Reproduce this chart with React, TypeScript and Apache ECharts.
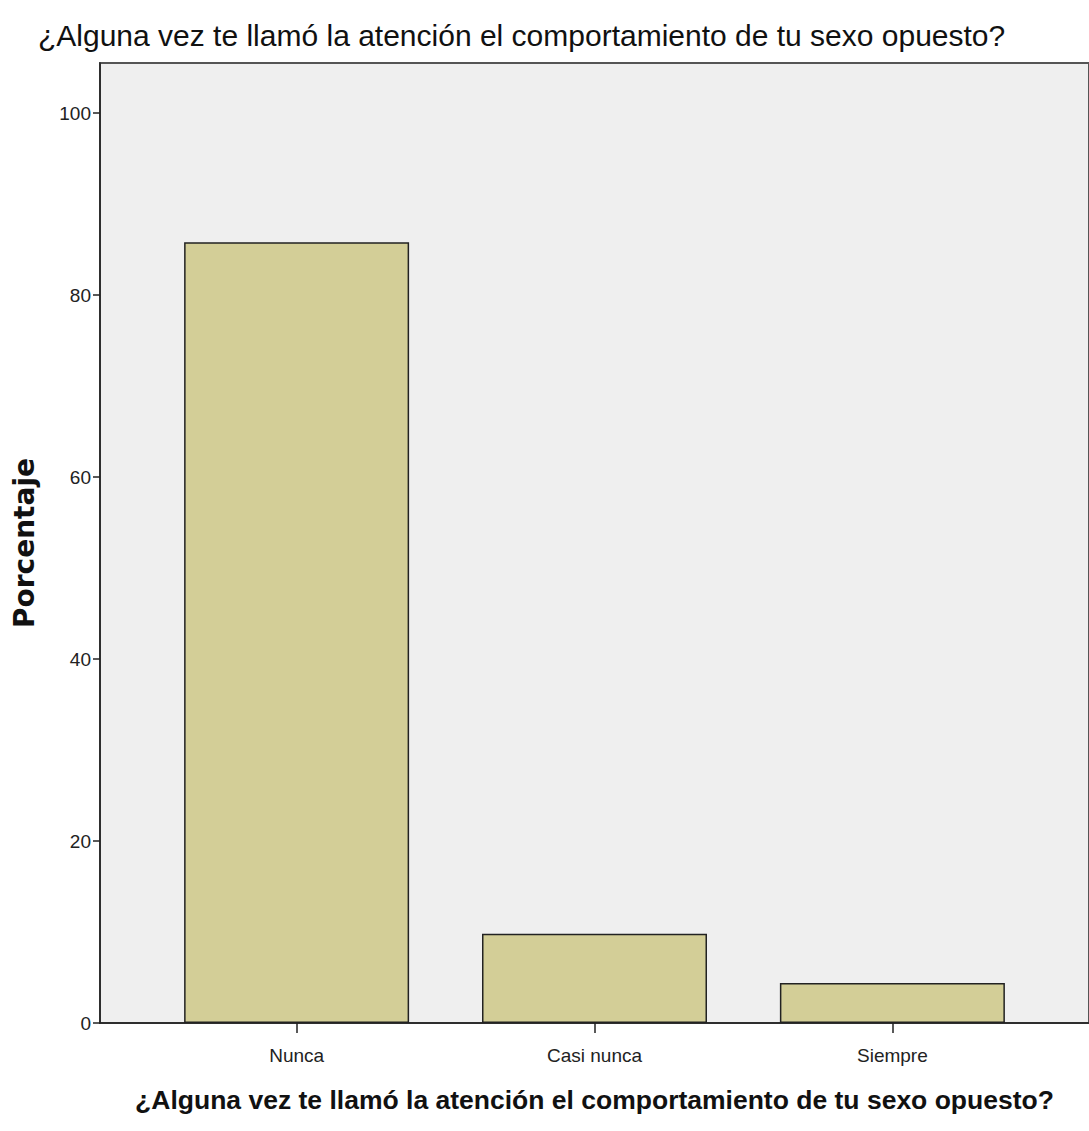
import React, { useEffect, useRef } from "react";
import * as echarts from "echarts";

const chartTitle = "¿Alguna vez te llamó la atención el comportamiento de tu sexo opuesto?";
const categories = ["Nunca", "Casi nunca", "Siempre"];
const percentages = [85.8, 9.8, 4.4];
const yTickValues = [0, 20, 40, 60, 80, 100];
const yAxisTitle = "Porcentaje";

export default function App() {
  const ref = useRef<HTMLDivElement>(null);
  useEffect(() => {
    if (!ref.current) return;
    const chart = echarts.init(ref.current, undefined, { renderer: "svg" });
    const xIdx = categories.map((_, i) => i);
    chart.setOption({
      animation: false,
      backgroundColor: "#ffffff",
      title: {
        text: chartTitle,
        left: 33,
        top: 15,
        textStyle: {
          fontFamily: "Liberation Sans, Arial, sans-serif",
          fontSize: 30,
          fontWeight: "normal",
          color: "#111",
        },
      },
      grid: {
        left: 100,
        top: 63,
        right: -7,
        bottom: 108,
        show: true,
        backgroundColor: "#efefef",
        borderColor: "#555",
        borderWidth: 2,
      },
      xAxis: {
        type: "value",
        min: -0.66,
        max: 2.66,
        name: chartTitle,
        nameLocation: "middle",
        nameGap: 63,
        nameTextStyle: {
          fontFamily: "Liberation Sans, Arial, sans-serif",
          fontWeight: "bold",
          fontSize: 26.5,
          color: "#111",
        },
        axisLine: { show: true, onZero: false, lineStyle: { color: "#222", width: 1.5 } },
        axisTick: { show: true, customValues: xIdx, length: 10, lineStyle: { color: "#222", width: 1.5 } },
        axisLabel: {
          customValues: xIdx,
          formatter: (v: number) => categories[Math.round(v)] ?? "",
          fontFamily: "Liberation Sans, Arial, sans-serif",
          fontSize: 19,
          color: "#222",
          margin: 23,
        },
        splitLine: { show: false },
      },
      yAxis: {
        type: "value",
        min: 0,
        max: 105.5,
        name: yAxisTitle,
        nameLocation: "middle",
        nameGap: 62,
        nameRotate: 90,
        nameTextStyle: {
          fontFamily: "DejaVu Sans, sans-serif",
          fontWeight: "bold",
          fontSize: 28,
          color: "#111",
        },
        axisLine: { show: true, onZero: false, lineStyle: { color: "#222", width: 1.5 } },
        axisTick: { show: true, customValues: yTickValues, length: 7, lineStyle: { color: "#222", width: 1.5 } },
        axisLabel: {
          customValues: yTickValues,
          fontFamily: "Liberation Sans, Arial, sans-serif",
          fontSize: 19,
          color: "#222",
          margin: 9,
        },
        splitLine: { show: false },
      },
      series: [
        {
          type: "bar",
          data: percentages.map((v, i) => [i, v]),
          barWidth: 225,
          itemStyle: { color: "#d3ce97", borderColor: "#222", borderWidth: 1.5 },
        },
      ],
    });
    return () => chart.dispose();
  }, []);
  return (
    <div
      ref={ref}
      style={{ position: "absolute", left: 0, top: 0, width: 1089, height: 1131 }}
    />
  );
}
